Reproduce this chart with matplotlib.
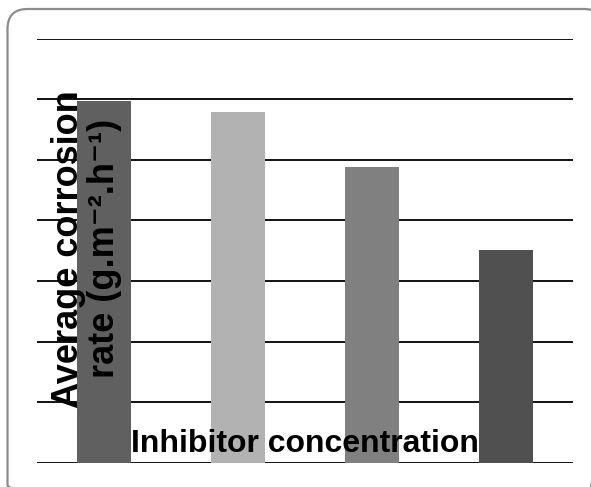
import matplotlib
matplotlib.use("Agg")
import matplotlib.pyplot as plt
from matplotlib.patches import FancyBboxPatch

# values (grid step = 1 unit)
categories = ["1", "2", "3", "4"]
rates = [5.97, 5.79, 4.89, 3.52]
bar_colors = ["#606060", "#b2b2b2", "#808080", "#505050"]
grid_levels = [0, 1, 2, 3, 4, 5, 6, 7]

plt.rcParams['font.family'] = ['Liberation Sans', 'DejaVu Sans']

W, H = 591, 487
fig = plt.figure(figsize=(W / 100, H / 100), dpi=100)

# rounded frame, drawn in pixel units on a background axes
bg = fig.add_axes([0, 0, 1, 1])
bg.set_xlim(0, W)
bg.set_ylim(H, 0)
bg.axis("off")
frame = FancyBboxPatch((7.5, 9), 604 - 7.5, 505 - 9,
                       boxstyle="round,pad=0,rounding_size=20",
                       facecolor="none", edgecolor="#8c8c8c",
                       linewidth=1.6, clip_on=False)
bg.add_patch(frame)

ax = fig.add_axes([37 / W, (H - 462.5) / H, (573 - 37) / W, (462.5 - 39) / H])
ax.set_facecolor("none")

x = list(range(len(categories)))
ax.bar(x, rates, width=0.4, color=bar_colors, zorder=3)
for g in grid_levels:
    ax.axhline(g, color="black", linewidth=1.3, zorder=2)

ax.set_xlim(-0.5, len(categories) - 0.5)
ax.set_ylim(0, 7)
ax.set_xticks([])
ax.set_yticks([])
for s in ax.spines.values():
    s.set_visible(False)

ax.text(0.5, 0.025, "Inhibitor concentration", transform=ax.transAxes,
        ha="center", va="baseline", fontsize=23, fontweight="bold", zorder=5)
ax.text(0.093, 0.505, "Average corrosion\nrate (g.m\u207b\u00b2.h\u207b\u00b9)",
        transform=ax.transAxes, rotation=90, ha="center", va="center",
        multialignment="center", fontsize=26, fontweight="bold",
        linespacing=1.03, zorder=5)

fig.savefig("out.png", dpi=100)
